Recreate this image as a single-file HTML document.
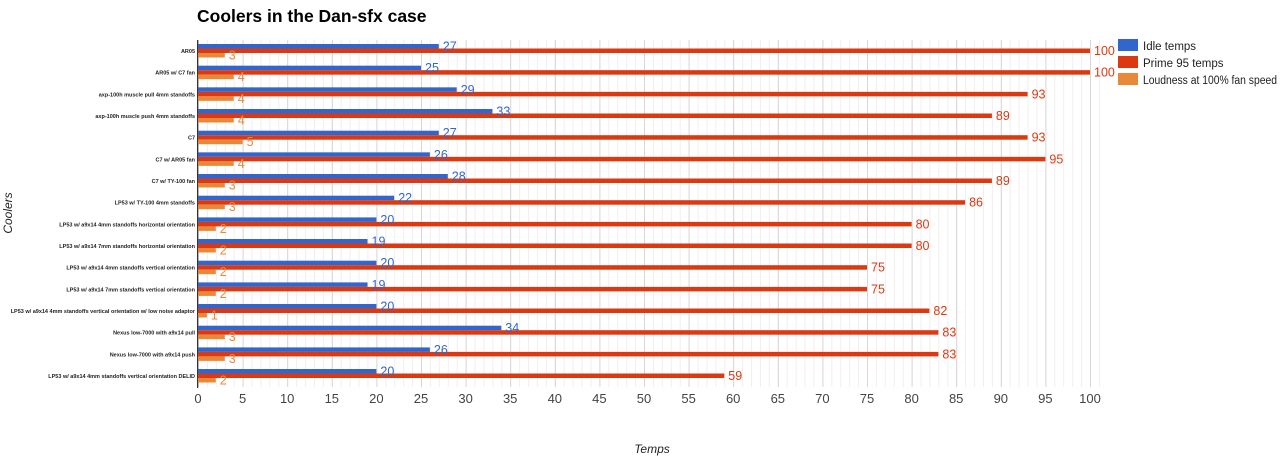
<!DOCTYPE html>
<html><head><meta charset="utf-8"><style>
html,body{margin:0;padding:0;background:#fff;width:1280px;height:457px;overflow:hidden}
svg{display:block;font-family:"Liberation Sans",Arial,sans-serif}
</style></head><body>
<svg width="1280" height="457" viewBox="0 0 1280 457">
<defs>
<pattern id="mn" x="198" y="0" width="8.92" height="10" patternUnits="userSpaceOnUse"><rect x="0" y="0" width="1" height="10" fill="#efefef"/></pattern>
<pattern id="mj" x="198" y="0" width="44.6" height="10" patternUnits="userSpaceOnUse"><rect x="0" y="0" width="1" height="10" fill="#d6d6d6"/></pattern>
</defs>
<text x="197" y="22" font-size="17.5" font-weight="bold" fill="#000">Coolers in the Dan-sfx case</text>
<rect x="198" y="40" width="906" height="347" fill="url(#mn)"/>
<rect x="198" y="40" width="906" height="347" fill="url(#mj)"/>
<rect x="197" y="40" width="1.2" height="348" fill="#333"/>
<g font-size="13" fill="#444" text-anchor="middle">
<text x="198" y="403">0</text><text x="242.6" y="403">5</text><text x="287.2" y="403">10</text><text x="331.8" y="403">15</text><text x="376.4" y="403">20</text><text x="421" y="403">25</text><text x="465.6" y="403">30</text><text x="510.2" y="403">35</text><text x="554.8" y="403">40</text><text x="599.4" y="403">45</text><text x="644" y="403">50</text><text x="688.6" y="403">55</text><text x="733.2" y="403">60</text><text x="777.8" y="403">65</text><text x="822.4" y="403">70</text><text x="867" y="403">75</text><text x="911.6" y="403">80</text><text x="956.2" y="403">85</text><text x="1000.8" y="403">90</text><text x="1045.4" y="403">95</text><text x="1090" y="403">100</text>
</g>
<text x="652" y="453" font-size="12" font-style="italic" fill="#222" text-anchor="middle">Temps</text>
<text transform="translate(12,213) rotate(-90)" font-size="12" font-style="italic" fill="#222" text-anchor="middle">Coolers</text>
<g font-size="11.5" fill="#222">
<rect x="1118" y="39" width="20" height="12" fill="#3366cc"/><text x="1143" y="50">Idle temps</text>
<rect x="1118" y="56" width="20" height="12" fill="#dc3912"/><text x="1143" y="67">Prime 95 temps</text>
<rect x="1118" y="73" width="20" height="12" fill="#e8893a"/><text x="1143" y="84" textLength="134" lengthAdjust="spacingAndGlyphs">Loudness at 100% fan speed</text>
</g>
<g id="rows" font-size="12.5">
<g transform="translate(0,51)"><text x="195" y="2" font-size="5.5" fill="#222" text-anchor="end" font-weight="bold">AR05</text><rect x="198" y="-7" width="240.8" height="4.5" fill="#3366cc"/><rect x="198" y="-2.5" width="892" height="4.5" fill="#dc3912"/><rect x="198" y="2" width="26.8" height="4.5" fill="#e8893a"/><text x="442.8" y="-0.5" fill="#3366cc">27</text><text x="1094" y="4" fill="#dc3912">100</text><text x="228.8" y="8.5" fill="#e8893a">3</text></g>
<g transform="translate(0,72.67)"><text x="195" y="2" font-size="5.5" fill="#222" text-anchor="end" font-weight="bold">AR05 w/ C7 fan</text><rect x="198" y="-7" width="223" height="4.5" fill="#3366cc"/><rect x="198" y="-2.5" width="892" height="4.5" fill="#dc3912"/><rect x="198" y="2" width="35.7" height="4.5" fill="#e8893a"/><text x="425" y="-0.5" fill="#3366cc">25</text><text x="1094" y="4" fill="#dc3912">100</text><text x="237.7" y="8.5" fill="#e8893a">4</text></g>
<g transform="translate(0,94.34)"><text x="195" y="2" font-size="5.5" fill="#222" text-anchor="end" font-weight="bold">axp-100h muscle pull 4mm standoffs</text><rect x="198" y="-7" width="258.7" height="4.5" fill="#3366cc"/><rect x="198" y="-2.5" width="829.6" height="4.5" fill="#dc3912"/><rect x="198" y="2" width="35.7" height="4.5" fill="#e8893a"/><text x="460.7" y="-0.5" fill="#3366cc">29</text><text x="1031.6" y="4" fill="#dc3912">93</text><text x="237.7" y="8.5" fill="#e8893a">4</text></g>
<g transform="translate(0,116)"><text x="195" y="2" font-size="5.5" fill="#222" text-anchor="end" font-weight="bold">axp-100h muscle push 4mm standoffs</text><rect x="198" y="-7" width="294.4" height="4.5" fill="#3366cc"/><rect x="198" y="-2.5" width="793.9" height="4.5" fill="#dc3912"/><rect x="198" y="2" width="35.7" height="4.5" fill="#e8893a"/><text x="496.4" y="-0.5" fill="#3366cc">33</text><text x="995.9" y="4" fill="#dc3912">89</text><text x="237.7" y="8.5" fill="#e8893a">4</text></g>
<g transform="translate(0,137.7)"><text x="195" y="2" font-size="5.5" fill="#222" text-anchor="end" font-weight="bold">C7</text><rect x="198" y="-7" width="240.8" height="4.5" fill="#3366cc"/><rect x="198" y="-2.5" width="829.6" height="4.5" fill="#dc3912"/><rect x="198" y="2" width="44.6" height="4.5" fill="#e8893a"/><text x="442.8" y="-0.5" fill="#3366cc">27</text><text x="1031.6" y="4" fill="#dc3912">93</text><text x="246.6" y="8.5" fill="#e8893a">5</text></g>
<g transform="translate(0,159.35)"><text x="195" y="2" font-size="5.5" fill="#222" text-anchor="end" font-weight="bold">C7 w/ AR05 fan</text><rect x="198" y="-7" width="231.9" height="4.5" fill="#3366cc"/><rect x="198" y="-2.5" width="847.4" height="4.5" fill="#dc3912"/><rect x="198" y="2" width="35.7" height="4.5" fill="#e8893a"/><text x="433.9" y="-0.5" fill="#3366cc">26</text><text x="1049.4" y="4" fill="#dc3912">95</text><text x="237.7" y="8.5" fill="#e8893a">4</text></g>
<g transform="translate(0,181)"><text x="195" y="2" font-size="5.5" fill="#222" text-anchor="end" font-weight="bold">C7 w/ TY-100 fan</text><rect x="198" y="-7" width="249.8" height="4.5" fill="#3366cc"/><rect x="198" y="-2.5" width="793.9" height="4.5" fill="#dc3912"/><rect x="198" y="2" width="26.8" height="4.5" fill="#e8893a"/><text x="451.8" y="-0.5" fill="#3366cc">28</text><text x="995.9" y="4" fill="#dc3912">89</text><text x="228.8" y="8.5" fill="#e8893a">3</text></g>
<g transform="translate(0,202.7)"><text x="195" y="2" font-size="5.5" fill="#222" text-anchor="end" font-weight="bold">LP53 w/ TY-100 4mm standoffs</text><rect x="198" y="-7" width="196.2" height="4.5" fill="#3366cc"/><rect x="198" y="-2.5" width="767.1" height="4.5" fill="#dc3912"/><rect x="198" y="2" width="26.8" height="4.5" fill="#e8893a"/><text x="398.2" y="-0.5" fill="#3366cc">22</text><text x="969.1" y="4" fill="#dc3912">86</text><text x="228.8" y="8.5" fill="#e8893a">3</text></g>
<g transform="translate(0,224.4)"><text x="195" y="2" font-size="5.5" fill="#222" text-anchor="end" font-weight="bold">LP53 w/ a9x14 4mm standoffs horizontal orientation</text><rect x="198" y="-7" width="178.4" height="4.5" fill="#3366cc"/><rect x="198" y="-2.5" width="713.6" height="4.5" fill="#dc3912"/><rect x="198" y="2" width="17.8" height="4.5" fill="#e8893a"/><text x="380.4" y="-0.5" fill="#3366cc">20</text><text x="915.6" y="4" fill="#dc3912">80</text><text x="219.8" y="8.5" fill="#e8893a">2</text></g>
<g transform="translate(0,246)"><text x="195" y="2" font-size="5.5" fill="#222" text-anchor="end" font-weight="bold">LP53 w/ a9x14 7mm standoffs horizontal orientation</text><rect x="198" y="-7" width="169.5" height="4.5" fill="#3366cc"/><rect x="198" y="-2.5" width="713.6" height="4.5" fill="#dc3912"/><rect x="198" y="2" width="17.8" height="4.5" fill="#e8893a"/><text x="371.5" y="-0.5" fill="#3366cc">19</text><text x="915.6" y="4" fill="#dc3912">80</text><text x="219.8" y="8.5" fill="#e8893a">2</text></g>
<g transform="translate(0,267.7)"><text x="195" y="2" font-size="5.5" fill="#222" text-anchor="end" font-weight="bold">LP53 w/ a9x14 4mm standoffs vertical orientation</text><rect x="198" y="-7" width="178.4" height="4.5" fill="#3366cc"/><rect x="198" y="-2.5" width="669" height="4.5" fill="#dc3912"/><rect x="198" y="2" width="17.8" height="4.5" fill="#e8893a"/><text x="380.4" y="-0.5" fill="#3366cc">20</text><text x="871" y="4" fill="#dc3912">75</text><text x="219.8" y="8.5" fill="#e8893a">2</text></g>
<g transform="translate(0,289.4)"><text x="195" y="2" font-size="5.5" fill="#222" text-anchor="end" font-weight="bold">LP53 w/ a9x14 7mm standoffs vertical orientation</text><rect x="198" y="-7" width="169.5" height="4.5" fill="#3366cc"/><rect x="198" y="-2.5" width="669" height="4.5" fill="#dc3912"/><rect x="198" y="2" width="17.8" height="4.5" fill="#e8893a"/><text x="371.5" y="-0.5" fill="#3366cc">19</text><text x="871" y="4" fill="#dc3912">75</text><text x="219.8" y="8.5" fill="#e8893a">2</text></g>
<g transform="translate(0,311)"><text x="195" y="2" font-size="5.5" fill="#222" text-anchor="end" font-weight="bold">LP53 w/ a9x14 4mm standoffs vertical orientation w/ low noise adaptor</text><rect x="198" y="-7" width="178.4" height="4.5" fill="#3366cc"/><rect x="198" y="-2.5" width="731.4" height="4.5" fill="#dc3912"/><rect x="198" y="2" width="8.9" height="4.5" fill="#e8893a"/><text x="380.4" y="-0.5" fill="#3366cc">20</text><text x="933.4" y="4" fill="#dc3912">82</text><text x="210.9" y="8.5" fill="#e8893a">1</text></g>
<g transform="translate(0,332.7)"><text x="195" y="2" font-size="5.5" fill="#222" text-anchor="end" font-weight="bold">Nexus low-7000 with a9x14 pull</text><rect x="198" y="-7" width="303.3" height="4.5" fill="#3366cc"/><rect x="198" y="-2.5" width="740.4" height="4.5" fill="#dc3912"/><rect x="198" y="2" width="26.8" height="4.5" fill="#e8893a"/><text x="505.3" y="-0.5" fill="#3366cc">34</text><text x="942.4" y="4" fill="#dc3912">83</text><text x="228.8" y="8.5" fill="#e8893a">3</text></g>
<g transform="translate(0,354.4)"><text x="195" y="2" font-size="5.5" fill="#222" text-anchor="end" font-weight="bold">Nexus low-7000 with a9x14 push</text><rect x="198" y="-7" width="231.9" height="4.5" fill="#3366cc"/><rect x="198" y="-2.5" width="740.4" height="4.5" fill="#dc3912"/><rect x="198" y="2" width="26.8" height="4.5" fill="#e8893a"/><text x="433.9" y="-0.5" fill="#3366cc">26</text><text x="942.4" y="4" fill="#dc3912">83</text><text x="228.8" y="8.5" fill="#e8893a">3</text></g>
<g transform="translate(0,376)"><text x="195" y="2" font-size="5.5" fill="#222" text-anchor="end" font-weight="bold">LP53 w/ a9x14 4mm standoffs vertical orientation DELID</text><rect x="198" y="-7" width="178.4" height="4.5" fill="#3366cc"/><rect x="198" y="-2.5" width="526.3" height="4.5" fill="#dc3912"/><rect x="198" y="2" width="17.8" height="4.5" fill="#e8893a"/><text x="380.4" y="-0.5" fill="#3366cc">20</text><text x="728.3" y="4" fill="#dc3912">59</text><text x="219.8" y="8.5" fill="#e8893a">2</text></g>
</g>
</svg>
</body></html>
